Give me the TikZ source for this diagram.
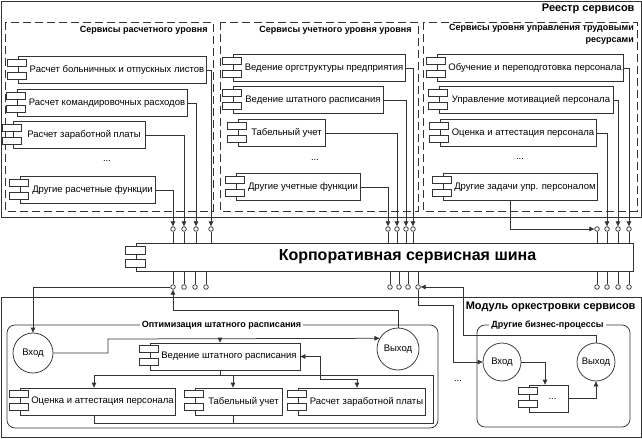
\documentclass[tikz,border=0pt]{standalone}
\usepackage{fontspec}
\setmainfont{Liberation Sans}
\usetikzlibrary{arrows.meta,calc}
\newcommand\ft{\fontsize{9.5bp}{11bp}\selectfont}
\newcommand\fb{\fontsize{9bp}{12.5bp}\selectfont\bfseries}
\newcommand\fbig{\fontsize{11bp}{13bp}\selectfont\bfseries}
\newcommand\fbus{\fontsize{16bp}{18bp}\selectfont\bfseries}
\tikzset{
  lc/.style={draw=black!80, line width=0.75bp},
  comp/.style={lc, fill=white, rectangle, minimum height=27bp, inner sep=0pt, font=\ft},
  tabbox/.style={lc, fill=white},
  port/.style={lc, circle, fill=white, minimum size=4.6bp, inner sep=0pt},
  arr/.style={lc, -{Triangle[length=5bp,width=4.5bp]}},
  arr2/.style={lc, {Triangle[length=5bp,width=4.5bp]}-{Triangle[length=5bp,width=4.5bp]}},
  dashpanel/.style={lc, dash pattern=on 8bp off 4bp},
  ioc/.style={lc, circle, fill=white, inner sep=0pt, font=\ft},
  ttl/.style={font=\fb, fill=white, inner xsep=2bp, inner ysep=1bp},
}
\newcommand\comptabs[1]{%
  \draw[tabbox] ($(#1.north west)+(-10bp,-3bp)$) rectangle ++(19bp,-7bp);
  \draw[tabbox] ($(#1.north west)+(-10bp,-16bp)$) rectangle ++(19bp,-7bp);}
\begin{document}
\begin{tikzpicture}[x=1bp,y=-1bp]
\useasboundingbox (0,0) rectangle (642,439);
% ---------- registry ----------
\draw[lc] (1,1) rectangle (641,217);
\node[font=\fbig, anchor=east] (reg) at (638,9) {Реестр сервисов};
\draw[dashpanel] (5,22) rectangle (213,211);
\draw[dashpanel] (220,22) rectangle (418,211);
\draw[dashpanel] (423,22) rectangle (637,211);
\node[font=\fb, anchor=east] (t1) at (211,30) {Сервисы расчетного уровня};
\node[font=\fb, anchor=east] (t2) at (415,30) {Сервисы учетного уровня уровня};
\node[font=\fb, anchor=north east, align=right, inner sep=0pt] (t3) at (634,24) {Сервисы уровня управления трудовыми\\ресурсами};
% panel 1
\node[comp, minimum width=188bp] (p1a) at (112,70) {\hspace*{10bp}Расчет больничных и отпускных листов};
\node[comp, minimum width=170bp] (p1b) at (102,103) {\hspace*{10bp}Расчет командировочных расходов};
\node[comp, minimum width=132bp] (p1c) at (79,135) {\hspace*{10bp}Расчет заработной платы};
\node[font=\ft] (d1) at (107,161) {...};
\node[comp, minimum width=135bp] (p1d) at (87.5,190) {\hspace*{10bp}Другие расчетные функции};
% panel 2
\node[comp, minimum width=172bp] (p2a) at (319,68) {\hspace*{10bp}Ведение оргструктуры предприятия};
\node[comp, minimum width=150bp] (p2b) at (308,100) {\hspace*{10bp}Ведение штатного расписания};
\node[comp, minimum width=87bp] (p2c) at (281.5,133) {\hspace*{10bp}Табельный учет};
\node[font=\ft] (d2) at (315,160) {...};
\node[comp, minimum width=124bp] (p2d) at (298,187) {\hspace*{10bp}Другие учетные функции};
% panel 3
\node[comp, minimum width=186bp] (p3a) at (530,68) {\hspace*{10bp}Обучение и переподготовка персонала};
\node[comp, minimum width=174bp] (p3b) at (526,100) {\hspace*{10bp}Управление мотивацией персонала};
\node[comp, minimum width=156bp] (p3c) at (518,133) {\hspace*{10bp}Оценка и аттестация персонала};
\node[font=\ft] (d3) at (520,159) {...};
\node[comp, minimum width=154bp] (p3d) at (520,187) {\hspace*{10bp}Другие задачи упр. персоналом};
\foreach \n in {p1a,p1b,p1c,p1d,p2a,p2b,p2c,p2d,p3a,p3b,p3c,p3d}{\comptabs{\n}}
% ---------- bus ----------
\node[comp, minimum width=497bp, minimum height=28bp, font=\fbus] (bus) at (384.5,257) {\hspace*{46bp}Корпоративная сервисная шина};
\draw[tabbox] ($(bus.north west)+(-10bp,-4bp)$) rectangle ++(20bp,-8bp);
\draw[tabbox] ($(bus.north west)+(-10bp,-17bp)$) rectangle ++(20bp,-8bp);
% top ports
\foreach \n/\x in {tA1/173,tA2/184,tA3/196,tA4/211,tB1/388,tB2/397,tB3/406,tB4/413,tC1/597,tC2/607,tC3/618,tC4/629}{
  \node[port] (\n) at (\x,229) {};
  \draw[lc] (\n.south) -- (\n.south |- bus.north);
}
% bottom ports
\foreach \n/\x in {bA1/173,bA2/184,bA3/195,bA4/206,bB1/390,bB2/399,bB3/408,bB4/418,bC1/597,bC2/607,bC3/618,bC4/629}{
  \node[port] (\n) at (\x,287) {};
  \draw[lc] (\n.north) -- (\n.north |- bus.south);
}
% top connectors
\draw[arr] (p1a.east) -| (tA4.north);
\draw[arr] (p1b.east) -| (tA3.north);
\draw[arr] (p1c.east) -| (tA2.north);
\draw[arr] (p1d.east) -| (tA1.north);
\draw[arr] (p2a.east) -| (tB4.north);
\draw[arr] (p2b.east) -| (tB3.north);
\draw[arr] (p2c.east) -| (tB2.north);
\draw[arr] (p2d.east) -| (tB1.north);
\draw[arr] (p3a.east) -| (tC4.north);
\draw[arr] (p3b.east) -| (tC3.north);
\draw[arr] (p3c.east) -| (tC2.north);
\coordinate (xp) at (510,0);
\draw[arr] (xp |- p3d.south) |- (tC1.west);
% ---------- orchestration module ----------
\draw[lc] (1,297) rectangle (641,437);
\node[font=\fbig, anchor=east] (mod) at (639,307) {Модуль оркестровки сервисов};
\draw[lc, rounded corners=8bp] (7,325) rectangle (438,428);
\draw[lc, rounded corners=8bp] (477,325) rectangle (630,427);
\node[ttl] (optt) at (221.5,325) {Оптимизация штатного расписания};
\node[ttl] (otht) at (547.5,325) {Другие бизнес-процессы};
% optimisation process
\node[ioc, minimum size=40bp] (vin) at (33,353) {Вход};
\node[ioc, minimum size=42bp] (vout) at (398,349) {Выход};
\node[comp, minimum width=150bp] (ved) at (225,356.5) {\hspace*{8bp}Ведение штатного расписания};
\node[comp, minimum width=155bp] (oc) at (97.5,401.5) {\hspace*{10bp}Оценка и аттестация персонала};
\node[comp, minimum width=87bp] (tab) at (238.5,401.5) {\hspace*{10bp}Табельный учет};
\node[comp, minimum width=127bp] (rzp) at (361.5,401.5) {\hspace*{10bp}Расчет заработной платы};
\foreach \n in {ved,oc,tab,rzp}{\comptabs{\n}}
\coordinate (j1) at (108,339);
\coordinate (j2) at (220,339);
\coordinate (j3) at (220,375);
\coordinate (j4) at (94,375);
\coordinate (j5) at (233,375);
\coordinate (j6) at (94,423);
\coordinate (j7) at (233,423);
\coordinate (j8) at (320,379);
\coordinate (j9) at (357,379);
\coordinate (jr) at (433,375);
\coordinate (jb) at (433,423);
\draw[arr] (vin.east) -| (j1) -- (vout.150);
\draw[arr] (j2) -- (j2 |- ved.north);
\draw[lc] (j2 |- ved.south) -- (j3);
\draw[lc] (j4) -- (jr) -- (jb) -- (j6);
\draw[arr] (j4) -- (j4 |- oc.north);
\draw[arr] (j5) -- (j5 |- tab.north);
\draw[lc] (j6) -- (j6 |- oc.south);
\draw[lc] (j7) -- (j7 |- tab.south);
\draw[arr2] (ved.east) -| (j8) -- (j9) -- (j9 |- rzp.north);
% other processes
\node[ioc, minimum size=38bp] (oin) at (502,362) {Вход};
\node[ioc, minimum size=38bp] (oout) at (596,362) {Выход};
\node[comp, minimum width=39bp] (obox) at (548.5,398.5) {\hspace*{8bp}...};
\comptabs{obox}
\coordinate (k1) at (545,362);
\draw[arr] (oin.east) -| (k1 |- obox.north);
\draw[arr] (obox.east) -| (oout.south);
\node[font=\ft] (d4) at (458,381) {...};
% module <-> bus
\coordinate (ya) at (0,310);
\coordinate (yd) at (0,305);
\coordinate (xd) at (453,0);
\coordinate (ye) at (0,335);
\coordinate (xe) at (463,0);
\draw[arr] (vout.north) -- (vout.north |- ya) -| (bA1.south);
\draw[arr] (bA1.west) -| (vin.north);
\draw[arr] (bB4.south) -- (bB4.south |- yd) -| (xd |- oin.west) -- (oin.west);
\draw[arr] (oout.north) -- (oout.north |- ye) -| (xe |- bB4.east) -- (bB4.east);
\end{tikzpicture}
\end{document}
